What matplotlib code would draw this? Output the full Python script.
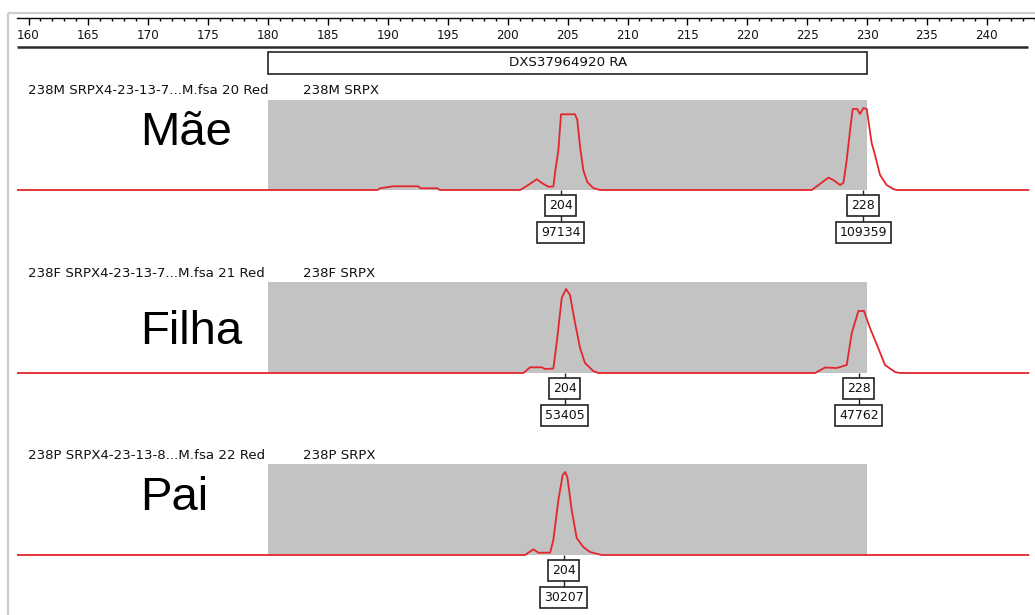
import matplotlib
matplotlib.use("Agg")
import matplotlib.pyplot as plt
from matplotlib.patches import Rectangle

# ---------------- data ----------------
ruler_major = list(range(160, 245, 5))
ruler_minor = [v for v in range(160, 245) if v % 5 != 0]
locus_name = "DXS37964920 RA"
locus_start, locus_end = 180, 230

sample_titles = ["238M SRPX4-23-13-7...M.fsa 20 Red",
                 "238F SRPX4-23-13-7...M.fsa 21 Red",
                 "238P SRPX4-23-13-8...M.fsa 22 Red"]
sample_short = ["238M SRPX", "238F SRPX", "238P SRPX"]
sample_names = ["Mãe", "Filha", "Pai"]
bin_heights = [90, 90.7, 91]

mae_bp = [158.96, 189.13, 189.33, 190.43, 192.53, 192.73, 194.13, 194.33,
          201.04, 201.59, 202.42, 202.98, 203.4, 203.81, 203.95, 204.23,
          204.45, 205.62, 205.81, 206.04, 206.31, 206.64, 207.14, 207.7,
          225.38, 226.77, 227.18, 227.74, 228.02, 228.3, 228.58, 228.8,
          229.18, 229.4, 229.69, 229.97, 230.1, 230.38, 230.66, 231.08,
          231.63, 232.18, 232.47, 243.46]
mae_h = [0, 0, 1.7, 3.7, 3.7, 1.7, 1.7, 0,
         0, 4, 10.7, 6, 3.3, 3.5, 17, 40,
         75.7, 75.7, 70, 43, 20, 8, 2, 0,
         0, 12.3, 10, 5, 7, 30, 60, 81,
         81, 76, 82, 81, 70, 47, 35, 15,
         5, 1, 0, 0]

filha_bp = [158.96, 201.31, 201.87, 202.84, 203.12, 203.81, 204.09, 204.51,
            204.87, 205.2, 205.62, 206.04, 206.45, 207.14, 207.56,
            225.66, 226.49, 227.47, 228.3, 228.72, 229.27, 229.74, 230.24,
            230.93, 231.49, 232.33, 232.74, 243.46]
filha_h = [0, 0, 5.7, 5.7, 4, 4.5, 30, 75,
           84, 78, 50, 25, 10, 2, 0,
           0, 5.5, 5, 8, 40, 62, 62, 45,
           25, 8, 1, 0, 0]

pai_bp = [158.96, 201.45, 202.14, 202.56, 203.54, 203.81, 204.23, 204.59,
          204.79, 204.98, 205.34, 205.76, 206.31, 206.87, 207.84, 243.46]
pai_h = [0, 0, 5.7, 2.3, 2.3, 15, 55, 80,
         83, 78, 45, 17, 8, 3, 0, 0]

traces_bp = [mae_bp, filha_bp, pai_bp]
traces_h = [mae_h, filha_h, pai_h]

peak_pos = [[204.41, 229.66], [204.76, 229.3], [204.66]]
peak_allele = [["204", "228"], ["204", "228"], ["204"]]
peak_area = [["97134", "109359"], ["53405", "47762"], ["30207"]]

# ---------------- layout helpers ----------------
W, H = 1035, 615
fig = plt.figure(figsize=(W / 100, H / 100), dpi=100)
fig.patch.set_facecolor("white")

PX_PER_BP, BP160_PX = 11.98, 28.5


def px2bp(px):
    return 160 + (px - BP160_PX) / PX_PER_BP


XL = (px2bp(17), px2bp(1031))


def axes_px(x0, y0, x1, y1, **kw):
    return fig.add_axes([x0 / W, 1 - y1 / H, (x1 - x0) / W, (y1 - y0) / H], **kw)


SMALL = dict(family="DejaVu Sans", fontsize=9.6, color="#111111")
RED = "#e3262b"
GRAY = "#c3c3c3"

# frame
frame = axes_px(0, 0, W, H)
frame.set_xlim(0, W)
frame.set_ylim(H, 0)
frame.axis("off")
frame.plot([7.5, 7.5], [13, H], color="#cdcdcd", lw=1.6, solid_capstyle="butt")
frame.plot([7.5, W], [13, 13], color="#cdcdcd", lw=1.6, solid_capstyle="butt")

# ruler
ruler = axes_px(17, 6, 1035, 18)
ruler.set_xlim(XL[0], px2bp(1035))
ruler.set_ylim(0, 1)
ruler.patch.set_alpha(0)
for s in ["left", "right", "top"]:
    ruler.spines[s].set_visible(False)
ruler.spines["bottom"].set_linewidth(1.0)
ruler.set_yticks([])
ruler.set_xticks(ruler_major)
ruler.set_xticks(ruler_minor, minor=True)
ruler.tick_params(axis="x", which="major", direction="out", length=5.2, width=1.0,
                  labelsize=8.6, pad=3.0, labelcolor="#111111")
ruler.tick_params(axis="x", which="minor", direction="out", length=2.4, width=1.0)
for lab in ruler.get_xticklabels():
    lab.set_family("DejaVu Sans")

# header: thick line + locus box
head = axes_px(17, 40, 1031, 80)
head.set_xlim(*XL)
head.set_ylim(80, 40)
head.axis("off")
head.hlines(47, XL[0], px2bp(1028), color="#2a2a2a", lw=1.8)
head.add_patch(Rectangle((locus_start, 52), locus_end - locus_start, 21.5,
                         facecolor="white", edgecolor="#222222", lw=1.2))
head.text((locus_start + locus_end) / 2, 63, locus_name, ha="center", va="center", **SMALL)

# panels
baselines = [190, 373, 555]
name_y = [57, 41, 57]
for i in range(3):
    B = baselines[i]
    ax = axes_px(17, B - 115, 1031, B + 60)
    ax.set_xlim(*XL)
    ax.set_ylim(-60, 115)
    ax.axis("off")
    ax.add_patch(Rectangle((locus_start, 0), locus_end - locus_start, bin_heights[i],
                           facecolor=GRAY, edgecolor="none", zorder=1))
    ax.plot(traces_bp[i], traces_h[i], color=RED, lw=1.3, zorder=3)
    ax.text(px2bp(28), 99.5, sample_titles[i], ha="left", va="center", **SMALL)
    ax.text(px2bp(303), 99.5, sample_short[i], ha="left", va="center", **SMALL)
    ax.text(px2bp(140), name_y[i], sample_names[i], ha="left", va="center",
            family="Liberation Sans", fontsize=34, color="black")
    for pos, al, ar in zip(peak_pos[i], peak_allele[i], peak_area[i]):
        ax.vlines(pos, -42, 0, color="#222222", lw=1.0, zorder=2)
        box = dict(boxstyle="square,pad=0.3", facecolor="white", edgecolor="#222222", lw=1.2)
        ax.text(pos, -15.5, al, ha="center", va="center", bbox=box, zorder=4,
                family="DejaVu Sans", fontsize=9.0, color="#111111")
        ax.text(pos, -42.5, ar, ha="center", va="center", bbox=box, zorder=4,
                family="DejaVu Sans", fontsize=9.0, color="#111111")

fig.savefig("out.png", dpi=100, facecolor="white")
